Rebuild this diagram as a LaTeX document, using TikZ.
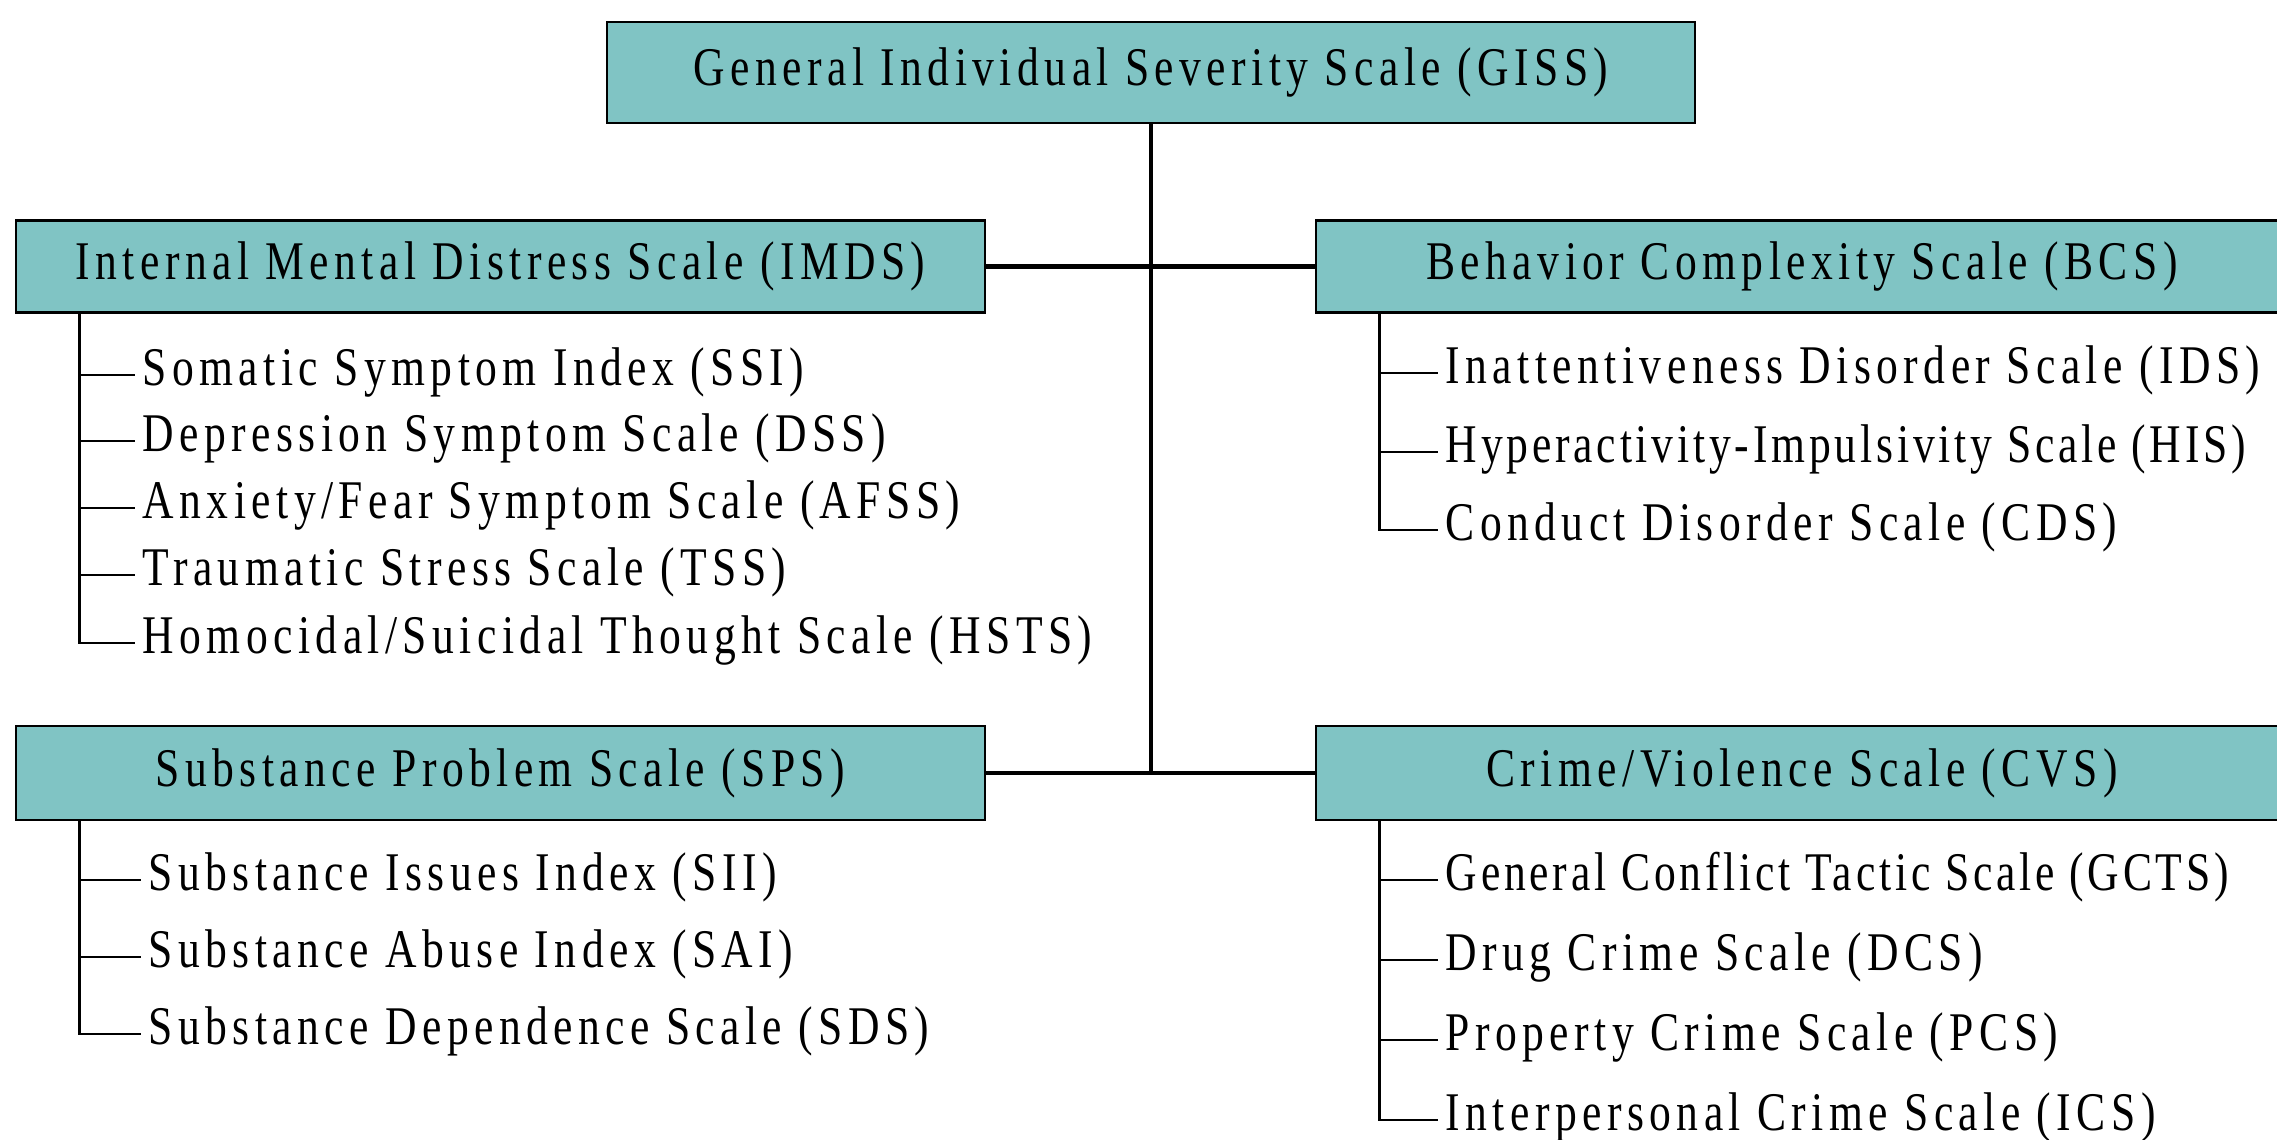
\documentclass[tikz,border=0pt]{standalone}
\usepackage{fontspec}
\setmainfont{Liberation Serif}[FakeStretch=0.8, LetterSpace=10]
\usepackage{tikz}
\usetikzlibrary{positioning, calc}
\definecolor{scalecolor}{RGB}{128, 196, 196}

\begin{document}
\begin{tikzpicture}[
    scale box/.style={draw, thick, fill=scalecolor, minimum height=0.92cm, inner sep=0pt, font=\fontsize{15.5}{17}\selectfont},
    item/.style={anchor=west, inner xsep=2pt, inner ysep=0pt, text height=1.45ex, text depth=0.15ex, font=\fontsize{15.5}{17}\selectfont},
    tight/.style={font=\fontsize{15.5}{17}\selectfont\addfontfeatures{LetterSpace=7}},
    trunk/.style={line width=1.3pt},
    branch/.style={line width=0.7pt}
]
    \clip (0,0) rectangle (22.77,11.40);
    \useasboundingbox (0,0) rectangle (22.77,11.40);

    % Top scale and the four subscales
    \node[scale box, minimum width=10.88cm, minimum height=1.01cm] (giss) at (11.51,10.675) {General Individual Severity Scale (GISS)};
    \node[scale box, minimum width=9.69cm] (imds) at (5.005,8.735) {Internal Mental Distress Scale (IMDS)};
    \node[scale box, minimum width=9.72cm] (bcs) at (18.02,8.735) {Behavior Complexity Scale (BCS)};
    \node[scale box, minimum width=9.69cm, minimum height=0.94cm] (sps) at (5.005,3.67) {Substance Problem Scale (SPS)};
    \node[scale box, minimum width=9.72cm, minimum height=0.94cm] (cvs) at (18.02,3.67) {Crime/Violence Scale (CVS)};

    % Trunk
    \draw[trunk] (giss) -- (giss |- sps);
    \draw[trunk] (imds) -- (bcs);
    \draw[trunk] (sps) -- (cvs);

    % Subscale items
    \foreach \txt/\y [count=\i] in {{Somatic Symptom Index (SSI)}/7.65, {Depression Symptom Scale (DSS)}/6.99,
        {Anxiety/Fear Symptom Scale (AFSS)}/6.32, {Traumatic Stress Scale (TSS)}/5.65,
        {Homocidal/Suicidal Thought Scale (HSTS)}/4.97}
        \node[item] (imds\i) at (1.35,\y) {\txt};
    \foreach \txt/\y [count=\i] in {{Substance Issues Index (SII)}/2.60, {Substance Abuse Index (SAI)}/1.83,
        {Substance Dependence Scale (SDS)}/1.06}
        \node[item] (sps\i) at (1.41,\y) {\txt};
    \node[item] (bcs1) at (14.38,7.67) {Inattentiveness Disorder Scale (IDS)};
    \node[item, tight] (bcs2) at (14.38,6.88) {Hyperactivity-Impulsivity Scale (HIS)};
    \node[item] (bcs3) at (14.38,6.10) {Conduct Disorder Scale (CDS)};
    \node[item, tight] (cvs1) at (14.38,2.60) {General Conflict Tactic Scale (GCTS)};
    \foreach \txt/\y [count=\i from 2] in {{Drug Crime Scale (DCS)}/1.80,
        {Property Crime Scale (PCS)}/1.00, {Interpersonal Crime Scale (ICS)}/0.20}
        \node[item] (cvs\i) at (14.38,\y) {\txt};

    % Spines under each subscale
    \coordinate (imdsspine) at ($(imds.south west)+(0.65,0)$);
    \coordinate (spsspine) at ($(sps.south west)+(0.65,0)$);
    \coordinate (bcsspine) at ($(bcs.south west)+(0.65,0)$);
    \coordinate (cvsspine) at ($(cvs.south west)+(0.65,0)$);
    \draw[branch] (imdsspine) |- (imds5.west);
    \draw[branch] (spsspine) |- (sps3.west);
    \draw[branch] (bcsspine) |- (bcs3.west);
    \draw[branch] (cvsspine) |- (cvs4.west);
    \foreach \i in {1,...,4} \draw[branch] (imdsspine |- imds\i.west) -- (imds\i.west);
    \foreach \i in {1,2} \draw[branch] (spsspine |- sps\i.west) -- (sps\i.west);
    \foreach \i in {1,2} \draw[branch] (bcsspine |- bcs\i.west) -- (bcs\i.west);
    \foreach \i in {1,...,3} \draw[branch] (cvsspine |- cvs\i.west) -- (cvs\i.west);
\end{tikzpicture}
\end{document}
